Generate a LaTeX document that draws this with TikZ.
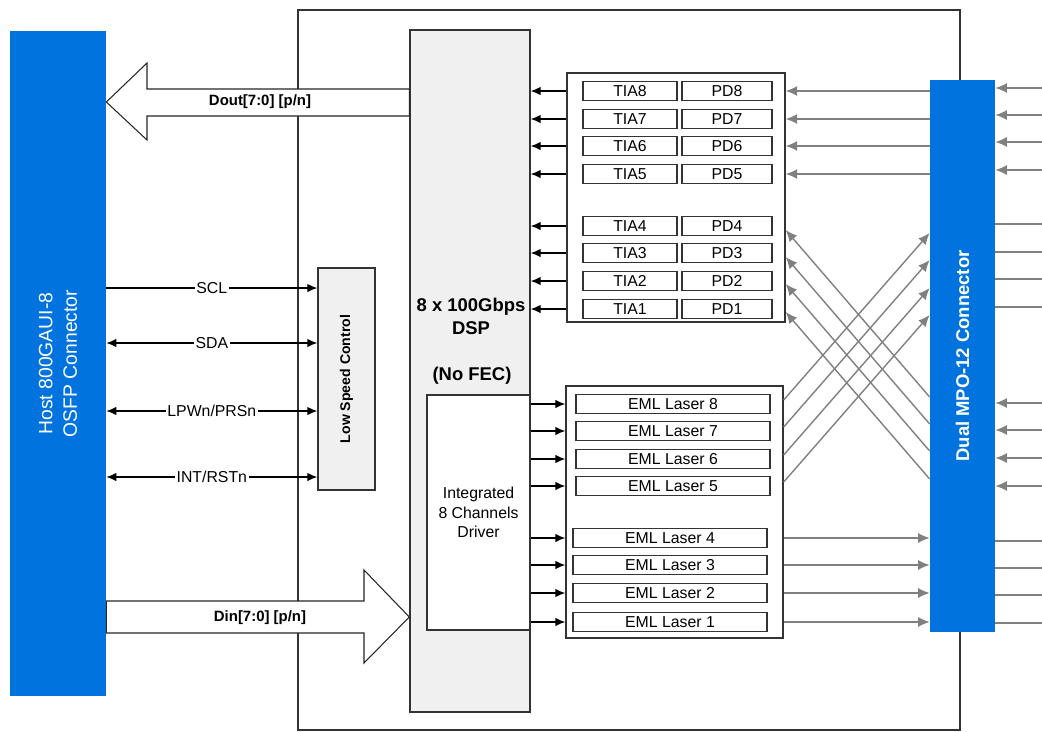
\documentclass[tikz,border=0pt]{standalone}
\usepackage{fontspec}
\setmainfont{Liberation Sans}
\usetikzlibrary{
    arrows.meta,
    positioning
}
\definecolor{HostBlue}{RGB}{0,115,222}
\definecolor{FibreGray}{RGB}{128,128,128}
\definecolor{PanelGray}{RGB}{240,240,240}
\tikzset{
  conn/.style    = {fill=HostBlue, inner sep=0pt},
  panel/.style   = {draw=black!80, fill=PanelGray, line width=0.8pt, inner sep=0pt},
  frame/.style   = {draw=black!80, fill=white, line width=0.8pt, inner sep=0pt},
  cell/.style    = {draw=black!80, fill=white, line width=0.8pt, minimum height=0.38cm,
                    inner sep=0pt, font=\fontsize{9}{10}\selectfont},
  arr/.style     = {-{Latex[length=2mm,width=1.7mm]}, line width=0.7pt},
  darr/.style    = {{Latex[length=2mm,width=1.7mm]}-{Latex[length=2mm,width=1.7mm]}, line width=0.7pt},
  fib/.style     = {-{Latex[length=2.3mm,width=2mm]}, FibreGray, line width=0.8pt},
  fibline/.style = {FibreGray, line width=0.8pt},
  bigarr/.style  = {draw=black!85, fill=white, line width=0.6pt},
  sig/.style     = {fill=white, inner sep=1pt, font=\fontsize{9}{10}\selectfont}
}

\begin{document}
\begin{tikzpicture}[x=0.02cm, y=-0.02cm]
\useasboundingbox (0,0) rectangle (1042,731);
\node[draw=black!80, line width=0.8pt, minimum width=13.24cm, minimum height=14.4cm, inner sep=0pt] (module) at (629,370) {};
% connectors
\node[conn, minimum width=1.92cm, minimum height=13.3cm] (host) at (58,363.5) {};
\node[rotate=90, white, align=center, font=\fontsize{11}{14}\selectfont] (hostlbl) at (host.center) {Host 800GAUI-8\\OSFP Connector};
\node[conn, minimum width=1.3cm, minimum height=11.04cm] (mpo) at (962.5,356) {};
\node[rotate=90, white, font=\bfseries\fontsize{10.5}{12}\selectfont] (mpolbl) at (mpo.center) {Dual MPO-12 Connector};
\coordinate (edge) at (1042,0);
% dsp and driver
\node[panel, minimum width=2.4cm, minimum height=13.64cm] (dsp) at (470,371) {};
\node[font=\bfseries\fontsize{10.5}{13}\selectfont, align=center] (dsplbl) at (471,316) {8 x 100Gbps\\DSP};
\node[font=\bfseries\fontsize{10.5}{13}\selectfont] (fec) at (472,376) {(No FEC)};
\node[frame, minimum width=2.06cm, minimum height=4.7cm, align=center, font=\fontsize{9}{11}\selectfont] (drv) at (478.5,512.5) {Integrated\\8 Channels\\Driver};
% low speed control
\node[panel, minimum width=1.14cm, minimum height=4.44cm] (lsc) at (346.5,379) {};
\node[rotate=90, font=\bfseries\fontsize{8}{10}\selectfont] (lsclbl) at (lsc.center) {Low Speed Control};
\draw[arr]  (host.east |- 0,288) -- node[sig] {SCL} (lsc.west |- 0,288);
\draw[darr] (host.east |- 0,343) -- node[sig] {SDA} (lsc.west |- 0,343);
\draw[darr] (host.east |- 0,411) -- node[sig] {LPWn/PRSn} (lsc.west |- 0,411);
\draw[darr] (host.east |- 0,477) -- node[sig] {INT/RSTn} (lsc.west |- 0,477);
% high speed lanes
\draw[bigarr] (host.east |- 0,102) -- (147,63) -- (147,89) -- (dsp.west |- 0,89)
  -- (dsp.west |- 0,116) -- (147,116) -- (147,140) -- cycle;
\node[font=\bfseries\fontsize{8.5}{10}\selectfont] (dout) at (260,102) {Dout[7:0] [p/n]};
\draw[bigarr] (host.east |- 0,601) -- (364,601) -- (364,570) -- (dsp.west |- 0,617)
  -- (364,663) -- (364,633) -- (host.east |- 0,633) -- cycle;
\node[font=\bfseries\fontsize{8.5}{10}\selectfont] (din) at (260,618) {Din[7:0] [p/n]};
% receiver
\node[frame, minimum width=4.36cm, minimum height=4.98cm] (rx) at (676,197.5) {};
\foreach \i/\y in {8/91,7/119,6/146,5/174,4/226,3/253,2/281,1/309}{
  \node[cell, minimum width=1.88cm] (tia\i) at (630,\y) {TIA\i};
  \node[cell, minimum width=1.8cm] (pd\i) at (727,\y) {PD\i};
  \draw[arr] (rx.west |- tia\i) -- (dsp.east |- tia\i);
}
% transmitter
\node[frame, minimum width=4.34cm, minimum height=5.04cm] (tx) at (674.5,512) {};
\foreach \i/\x/\y in {8/673/404,7/673/431,6/673/459,5/673/486,4/670/538,3/670/565,2/670/593,1/670/622}{
  \node[cell, minimum width=3.88cm] (eml\i) at (\x,\y) {EML Laser \i};
  \draw[arr] (drv.east |- eml\i) -- (tx.west |- eml\i);
}
% fibres
\foreach \i in {8,7,6,5}
  \draw[fib] (mpo.west |- pd\i) -- (rx.east |- pd\i);
\foreach \a/\b in {397/230,424/257,451/284,479/312}
  \draw[fib] (mpo.west |- 0,\a) -- (rx.east |- 0,\b);
\foreach \a/\b in {400/233,427/260,455/288,482/315}
  \draw[fib] (tx.east |- 0,\a) -- (mpo.west |- 0,\b);
\foreach \i in {4,3,2,1}
  \draw[fib] (tx.east |- eml\i) -- (mpo.west |- eml\i);
\foreach \y in {88,115,142,170,403,430,458,486}
  \draw[fib] (edge |- 0,\y) -- (mpo.east |- 0,\y);
\foreach \y in {224,252,279,307,541,568,595,623}
  \draw[fibline] (mpo.east |- 0,\y) -- (edge |- 0,\y);
\end{tikzpicture}
\end{document}
